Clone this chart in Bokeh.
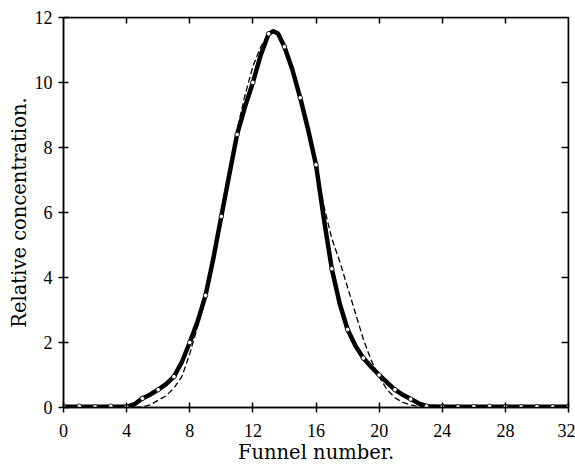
from bokeh.plotting import figure
from bokeh.models import LinearAxis, FixedTicker, Range1d
from bokeh.embed import file_html
from bokeh.resources import INLINE

# Observed concentrations at each funnel (open circles)
funnel = list(range(33))
observed = [0.02, 0.04, 0.02, 0.04, 0.02, 0.28, 0.55, 0.95, 2.0, 3.45,
            5.88, 8.4, 10.0, 11.5, 11.1, 9.53, 7.47, 4.27, 2.4, 1.52,
            1.0, 0.55, 0.26, 0.04, 0.02, 0.02, 0.03, 0.04, 0.03, 0.02,
            0.03, 0.02, 0.02]

curve_x = [0, 4, 4.5, 5, 5.5, 6, 6.5, 7, 7.5, 8, 8.5, 9, 9.5, 10, 10.5,
           11, 11.5, 12, 12.5, 13, 13.3, 13.6, 14, 14.5, 15, 15.5, 16,
           16.5, 17, 17.5, 18, 18.5, 19, 19.5, 20, 20.5, 21, 21.5, 22,
           22.5, 23, 24, 32]
curve_y = [0.02, 0.02, 0.1, 0.28, 0.4, 0.55, 0.72, 0.95, 1.4, 2.0, 2.65,
           3.45, 4.6, 5.88, 7.15, 8.4, 9.25, 10.0, 10.85, 11.5, 11.58,
           11.5, 11.1, 10.4, 9.53, 8.55, 7.47, 5.8, 4.27, 3.2, 2.4, 1.9,
           1.52, 1.25, 1.0, 0.77, 0.55, 0.39, 0.26, 0.13, 0.04, 0.02, 0.02]

# Theoretical distribution (dashed line)
theory_x = [0, 4.5, 5, 5.5, 6, 6.5, 7, 7.5, 8, 8.5, 9, 9.5, 10, 10.5, 11,
            11.5, 12, 12.5, 13, 13.3, 13.6, 14, 14.5, 15, 15.5, 16, 16.5,
            17, 17.5, 18, 18.5, 19, 19.5, 20, 20.5, 21, 21.5, 22, 22.5,
            23, 32]
theory_y = [0.0, 0.0, 0.02, 0.08, 0.22, 0.36, 0.6, 0.95, 1.65, 2.5, 3.35,
            4.5, 5.9, 7.3, 8.55, 9.6, 10.5, 11.1, 11.5, 11.6, 11.55, 11.1,
            10.4, 9.53, 8.55, 7.47, 6.2, 5.2, 4.5, 3.7, 2.9, 2.1, 1.45,
            0.95, 0.55, 0.3, 0.16, 0.08, 0.03, 0.01, 0.0]

x_ticks = [0, 4, 8, 12, 16, 20, 24, 28, 32]
y_ticks = [0, 2, 4, 6, 8, 10, 12]

p = figure(width=575, height=466, x_range=Range1d(0, 32), y_range=Range1d(0, 12),
           output_backend="svg", toolbar_location=None,
           min_border_left=63, min_border_right=7, min_border_top=17,
           min_border_bottom=59)
p.grid.visible = False
p.outline_line_color = "black"
p.outline_line_width = 1.5
p.background_fill_color = "white"
p.border_fill_color = "white"

tick_font = "Liberation Sans Narrow"
label_font = "DejaVu Serif"

for ax in (p.xaxis[0], p.yaxis[0]):
    ax.axis_line_width = 1.5
    ax.axis_line_color = "black"
    ax.major_tick_in = 5
    ax.major_tick_out = 5
    ax.major_tick_line_width = 1.5
    ax.minor_tick_line_color = None
    ax.major_label_text_font = tick_font
    ax.major_label_text_font_size = "18px"
    ax.major_label_text_color = "black"
    ax.axis_label_text_font = label_font
    ax.axis_label_text_font_style = "normal"
    ax.axis_label_text_color = "black"
    ax.axis_label_text_font_size = "19.5px"

p.xaxis[0].ticker = FixedTicker(ticks=x_ticks)
p.yaxis[0].ticker = FixedTicker(ticks=y_ticks)
p.xaxis[0].axis_label = "Funnel number."
p.yaxis[0].axis_label = "Relative concentration."
p.xaxis[0].major_label_standoff = 11
p.yaxis[0].major_label_standoff = 6
p.xaxis[0].axis_label_standoff = 1
p.yaxis[0].axis_label_standoff = 1

# Inward ticks on the top and right edges of the box (no labels, no space)
top = LinearAxis(ticker=FixedTicker(ticks=x_ticks[1:-1]), fixed_location=12,
                 major_tick_in=6, major_tick_out=0,
                 major_label_text_font_size="0px", major_label_text_color=None,
                 major_label_standoff=0, axis_line_width=1.5,
                 major_tick_line_width=1.5, minor_tick_line_color=None)
right = LinearAxis(ticker=FixedTicker(ticks=y_ticks[1:-1]), fixed_location=32,
                   major_tick_in=7, major_tick_out=0,
                   major_label_text_font_size="0px", major_label_text_color=None,
                   major_label_standoff=0, axis_line_width=1.5,
                   major_tick_line_width=1.5, minor_tick_line_color=None)
p.add_layout(top, "above")
p.add_layout(right, "right")

p.line(theory_x, theory_y, line_color="black", line_width=1.3, line_dash="6 3")
p.line(curve_x, curve_y, line_color="black", line_width=4.5, line_join="round")
p.scatter(funnel, observed, size=4.5, fill_color="white", line_color="black",
          line_width=0.8)

open("out.html", "w").write(file_html(p, INLINE))
